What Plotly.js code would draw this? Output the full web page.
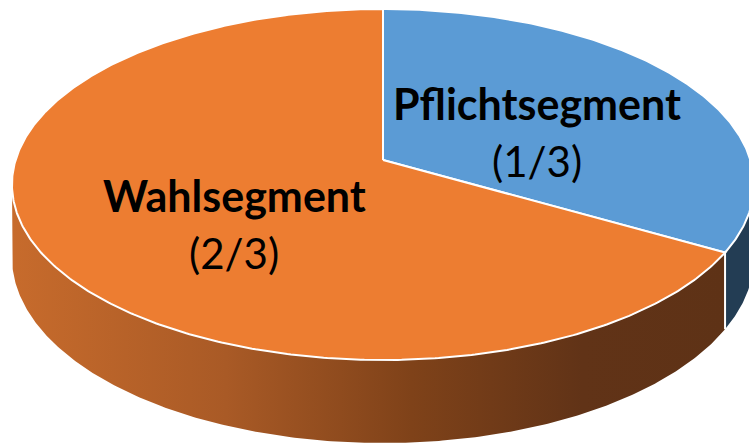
<!DOCTYPE html>
<html>
<head>
<meta charset="utf-8">
<script src="https://cdn.plot.ly/plotly-3.0.1.min.js"></script>
<style>html,body{margin:0;padding:0;background:#fff;}#chart{width:749px;height:445px;}</style>
</head>
<body>
<div id="chart"></div>
<script>
// ---- data ----
const categories = ['Pflichtsegment', 'Wahlsegment'];
const values = [1, 2];
const shareLabels = ['(1/3)', '(2/3)'];
const topColors = ['#5B9BD5', '#ED7D31'];
const sideColors = ['#233D54', '#9A5222'];

// ---- 3D pie geometry (perspective projection of a tilted disc) ----
const W = 749, Hh = 445;
const cx = 383, cy = 160;      // pie centre on screen
const B = 367.4, A = 172.1;    // horizontal / vertical radii factors
const p = 0.1396;              // perspective factor
const depth = 71.4;            // thickness
const deg = Math.PI / 180;

function proj(t, drop) {
  const u = Math.cos(t), v = Math.sin(t);
  const s = 1 / (1 + p * v);
  return [cx + B * u * s, cy - A * v * s + (drop ? depth * s : 0)];
}
function arc(ta, tb, drop) {
  const n = Math.max(2, Math.ceil(Math.abs(tb - ta) / (0.5 * deg)));
  const xs = [], ys = [];
  for (let i = 0; i <= n; i++) {
    const t = ta + (tb - ta) * i / n;
    const q = proj(t, drop);
    xs.push(q[0]); ys.push(q[1]);
  }
  return [xs, ys];
}

const total = values.reduce((a, b) => a + b, 0);
const slices = [];
let cum = 0;
values.forEach((v, i) => {
  const t0 = (90 - 360 * cum / total) * deg;
  const t1 = (90 - 360 * (cum + v) / total) * deg;
  slices.push({t0, t1, i});
  cum += v;
});

const tSil = Math.asin(p);
const frontMin = -Math.PI + tSil, frontMax = -tSil;

const traces = [];
// sides
slices.forEach(sl => {
  const a = Math.min(sl.t0, frontMax);
  const b = Math.max(sl.t1, frontMin);
  if (a <= b) return;
  const top = arc(a, b, false);
  const bot = arc(b, a, true);
  const tr = {
    type: 'scatter', mode: 'lines', hoverinfo: 'skip',
    x: top[0].concat(bot[0]), y: top[1].concat(bot[1]),
    fill: 'toself', line: {width: 0, color: sideColors[sl.i]},
    fillcolor: sideColors[sl.i]
  };
  if (sl.i === 1) {
    tr.fillgradient = {
      type: 'horizontal',
      colorscale: [[0, '#C76B2C'], [0.3, '#A95A26'], [0.56, '#7F4219'], [0.8, '#613317'], [1, '#5E3216']]
    };
  }
  traces.push(tr);
});
// white separators on the side at slice boundaries in front
slices.forEach(sl => {
  const tt = ((sl.t1 / deg) % 360 + 360) % 360 - 360;
  const tr = tt * deg;
  if (tr > frontMin && tr < frontMax) {
    const a = proj(tr, false), b = proj(tr, true);
    traces.push({type: 'scatter', mode: 'lines', hoverinfo: 'skip',
      x: [a[0], b[0]], y: [a[1], b[1]], line: {color: '#ffffff', width: 2}});
  }
});
// top faces
slices.forEach(sl => {
  const ar = arc(sl.t0, sl.t1, false);
  traces.push({
    type: 'scatter', mode: 'lines', hoverinfo: 'skip',
    x: [cx].concat(ar[0], [cx]), y: [cy].concat(ar[1], [cy]),
    fill: 'toself', fillcolor: topColors[sl.i],
    line: {color: '#ffffff', width: 2}
  });
});

const labelPos = [[537, 103, 161], [234, 195, 253]];
const annotations = [];
categories.forEach((c, i) => {
  annotations.push({x: labelPos[i][0], y: labelPos[i][1], xref: 'x', yref: 'y', showarrow: false,
    text: '<b>' + c + '</b>', font: {family: 'Lato, Carlito, sans-serif', size: 43, color: '#000'},
    xanchor: 'center', yanchor: 'middle'});
  annotations.push({x: labelPos[i][0], y: labelPos[i][2], xref: 'x', yref: 'y', showarrow: false,
    text: shareLabels[i], font: {family: 'Lato, Carlito, sans-serif', size: 42, color: '#000'},
    xanchor: 'center', yanchor: 'middle'});
});

const layout = {
  width: W, height: Hh,
  margin: {l: 0, r: 0, t: 0, b: 0},
  paper_bgcolor: '#ffffff', plot_bgcolor: '#ffffff',
  showlegend: false,
  xaxis: {range: [0, W], visible: false, fixedrange: true},
  yaxis: {range: [Hh, 0], visible: false, fixedrange: true},
  annotations: annotations
};
Plotly.newPlot('chart', traces, layout, {displayModeBar: false, staticPlot: true});
</script>
</body>
</html>
